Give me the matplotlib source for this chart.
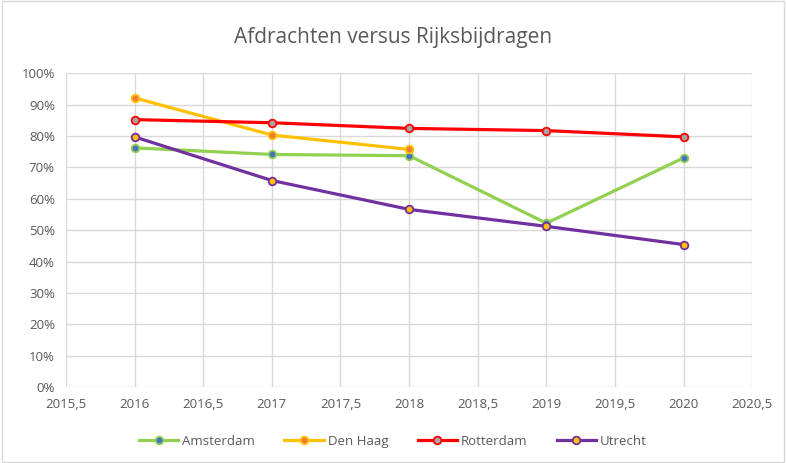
import matplotlib.pyplot as plt
from matplotlib.patches import Rectangle
from matplotlib.ticker import FuncFormatter, MultipleLocator

plt.rcParams['font.family'] = ['Open Sans', 'DejaVu Sans']

years = [2016, 2017, 2018, 2019, 2020]
amsterdam = [0.762, 0.741, 0.737, 0.522, 0.730]
den_haag = [0.921, 0.803, 0.757]
rotterdam = [0.852, 0.842, 0.824, 0.817, 0.797]
utrecht = [0.797, 0.658, 0.566, 0.512, 0.454]

series = [
    ('Amsterdam', years, amsterdam, '#92D050', '#4472C4'),
    ('Den Haag', years[:3], den_haag, '#FFC000', '#ED7D31'),
    ('Rotterdam', years, rotterdam, '#FF0000', '#A5A5A5'),
    ('Utrecht', years, utrecht, '#7030A0', '#FFC000'),
]

fig = plt.figure(figsize=(7.86, 4.63), dpi=100)
ax = fig.add_axes([0.084, 0.164, 0.873, 0.678])

for name, x, y, line_c, face_c in series:
    ax.plot(x, y, color=line_c, linewidth=2.3, marker='o', markersize=5.5,
            markerfacecolor=face_c, markeredgecolor=line_c, markeredgewidth=1.3,
            label=name, zorder=3)

ax.set_xlim(2015.5, 2020.5)
ax.set_ylim(0, 1)
ax.xaxis.set_major_locator(MultipleLocator(0.5))
ax.yaxis.set_major_locator(MultipleLocator(0.1))


def fmt_year(v, pos):
    if abs(v - round(v)) < 1e-6:
        return f'{int(round(v))}'
    return f'{v:.1f}'.replace('.', ',')


ax.xaxis.set_major_formatter(FuncFormatter(fmt_year))
ax.yaxis.set_major_formatter(FuncFormatter(lambda v, p: f'{v * 100:.0f}%'))

ax.grid(True, color='#D9D9D9', linewidth=1)
ax.set_axisbelow(True)
for s in ax.spines.values():
    s.set_visible(False)
ax.tick_params(length=0, colors='#595959', labelsize=9.5, pad=8)

fig.text(0.5, 0.918, 'Afdrachten versus Rijksbijdragen', ha='center', va='center',
         fontsize=15, color='#595959')

fig.legend(loc='center', bbox_to_anchor=(0.5, 0.047), ncol=4, frameon=False,
           fontsize=9.5, labelcolor='#595959', handlelength=3, columnspacing=2.2,
           handletextpad=0.3)

fig.patches.append(Rectangle((0.003, 0.003), 0.994, 0.994, transform=fig.transFigure,
                             fill=False, edgecolor='#D9D9D9', linewidth=1))

plt.savefig('out.png', dpi=100)
